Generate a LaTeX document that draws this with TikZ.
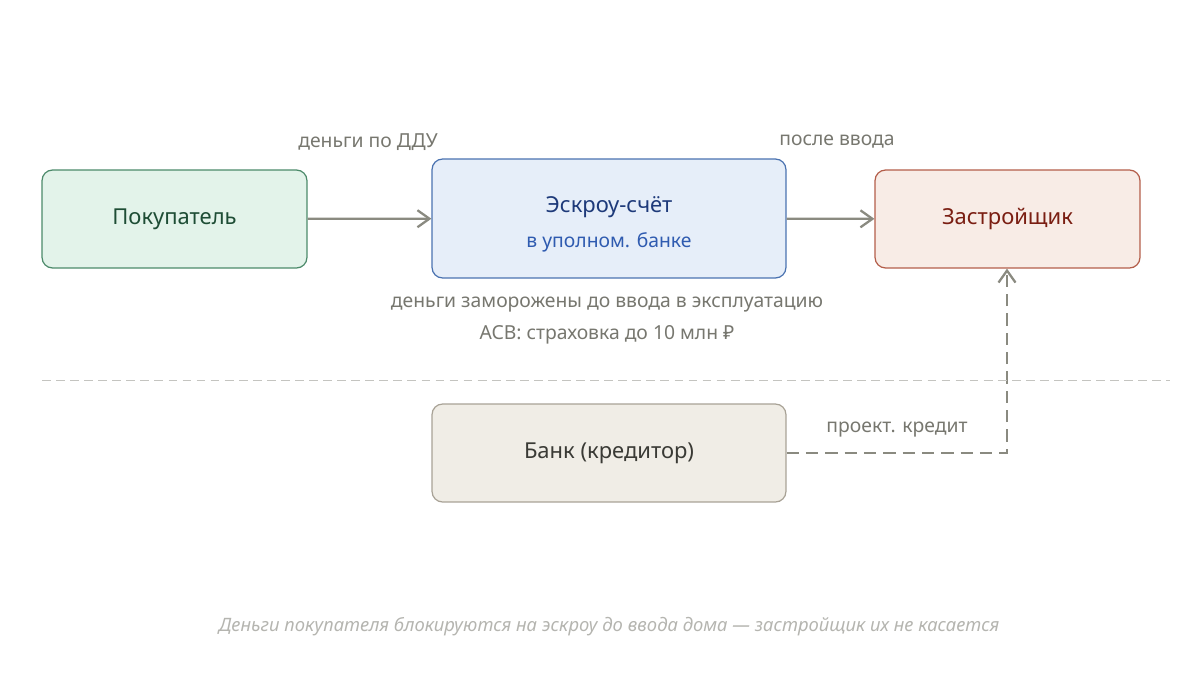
\documentclass[tikz,border=0pt]{standalone}
\usepackage{fontspec}
\setmainfont{Noto Sans}
\usetikzlibrary{arrows.meta,positioning}
\definecolor{buyfill}{HTML}{E3F3EA}\definecolor{buydraw}{HTML}{4C8A6A}\definecolor{buytext}{HTML}{1E4D35}
\definecolor{escfill}{HTML}{E6EEF9}\definecolor{escdraw}{HTML}{4A72B0}\definecolor{esctext}{HTML}{1E3A7A}\definecolor{escsub}{HTML}{2F5BB0}
\definecolor{devfill}{HTML}{F8ECE6}\definecolor{devdraw}{HTML}{B35E4A}\definecolor{devtext}{HTML}{7A1E12}
\definecolor{bankfill}{HTML}{F0EDE6}\definecolor{bankdraw}{HTML}{A8A296}\definecolor{banktext}{HTML}{3A3A35}
\definecolor{flow}{HTML}{8A8A80}\definecolor{note}{HTML}{77776F}\definecolor{foot}{HTML}{B5B5B0}
\tikzset{%
  % Specifications for style of nodes:
         base/.style = {rectangle, rounded corners=6pt, line width=0.7pt, minimum width=5.3cm, minimum height=1.96cm, font=\fontsize{12.5}{15}\selectfont\bfseries, align=center},
         wide/.style = {base, minimum width=7.08cm},
         note/.style = {text=note, font=\fontsize{11}{13}\selectfont},
         flowline/.style = {->, >={Straight Barb[length=2.4mm,width=3.4mm]}, line width=1.3pt, draw=flow},
}
\begin{document}
\begin{tikzpicture}[x=0.02cm, y=-0.02cm]
    \useasboundingbox (0,0) rectangle (1200,679);
    % Draw nodes
    \node (buyer)  [base, fill=buyfill, draw=buydraw, text=buytext] at (174.5,219) {Покупатель};
    \node (escrow) [wide, fill=escfill, draw=escdraw, minimum height=2.38cm] at (609,218.5) {};
    \node [text=esctext, font=\fontsize{12.5}{15}\selectfont\bfseries] at (609,207) {Эскроу-счёт};
    \node [text=escsub, font=\fontsize{11}{13}\selectfont] at (609,242) {в уполном. банке};
    \node (dev)    [base, fill=devfill, draw=devdraw, text=devtext] at (1007.5,219) {Застройщик};
    \node (bank)   [wide, fill=bankfill, draw=bankdraw, text=banktext, font=\fontsize{12.5}{15}\selectfont] at (609,453) {Банк (кредитор)};
    \coordinate (turn) at (1007,453);

    % Draw arrows
    \draw[flowline] (buyer) -- (escrow);
    \draw[flowline] (escrow) -- (dev);
    \draw[flowline, dashed, dash pattern=on 7pt off 4pt] (bank) -- (turn) -- (dev.south -| turn);
    \draw[foot!80, dashed, dash pattern=on 5pt off 3pt, line width=0.5pt] (42,380) -- (1170,380);

    % Labels
    \node[note] at (368,142) {деньги по ДДУ};
    \node[note] at (837,142) {после ввода};
    \node[note] at (607,305) {деньги заморожены до ввода в эксплуатацию};
    \node[note] at (607,335) {АСВ: страховка до 10 млн ₽};
    \node[note] at (897,430) {проект. кредит};
    \node[text=foot, font=\fontsize{10.5}{13}\selectfont\itshape] at (609,627) {Деньги покупателя блокируются на эскроу до ввода дома — застройщик их не касается};
\end{tikzpicture}
\end{document}
